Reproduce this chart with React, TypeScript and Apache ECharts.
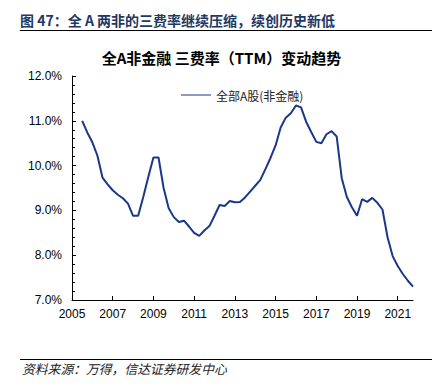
import React, { useEffect, useRef } from "react";
import * as echarts from "echarts";

// ---- data ----
const START_YEAR = 2005;
const START_QUARTER = 2; // first point: 2005Q2
const expenseRatio: number[] = [
  11.0, 10.74, 10.52, 10.22, 9.73, 9.58, 9.45, 9.35, 9.27, 9.15,
  8.88, 8.88, 9.3, 9.75, 10.18, 10.18, 9.5, 9.05, 8.85, 8.74,
  8.77, 8.64, 8.5, 8.43, 8.55, 8.65, 8.88, 9.12, 9.1, 9.21,
  9.18, 9.19, 9.29, 9.42, 9.55, 9.68, 9.92, 10.17, 10.45, 10.85,
  11.07, 11.17, 11.34, 11.3, 10.98, 10.75, 10.53, 10.5, 10.7, 10.77,
  10.65, 9.72, 9.3, 9.07, 8.88, 9.25, 9.19, 9.28, 9.17, 9.02,
  8.4, 7.98, 7.76, 7.58, 7.43, 7.3,
];
const xTickYears: number[] = [2005, 2007, 2009, 2011, 2013, 2015, 2017, 2019, 2021];
const seriesName = "全部A股(非金融)";
const headerText = "图 47：全 A 两非的三费率继续压缩，续创历史新低";
const chartTitle = "全A非金融 三费率（TTM）变动趋势";
const sourceText = "资料来源：万得，信达证券研发中心";

// quarter labels -> decimal year (end of quarter)
const quarterLabels: string[] = expenseRatio.map((_, i) => {
  const q0 = START_QUARTER - 1 + i;
  const y = START_YEAR + Math.floor(q0 / 4);
  return `${y}Q${(q0 % 4) + 1}`;
});
const toYear = (label: string) => {
  const [y, q] = label.split("Q");
  return Number(y) + Number(q) / 4;
};

const CJK = '"Noto Sans CJK SC", "Noto Sans", sans-serif';
const NUM = '"Liberation Sans", Arial, sans-serif';

export default function App() {
  const ref = useRef<HTMLDivElement>(null);
  useEffect(() => {
    document.body.style.margin = "0";
    if (!ref.current) return;
    const chart = echarts.init(ref.current, undefined, { renderer: "svg" });
    chart.setOption({
      animation: false,
      backgroundColor: "#ffffff",
      grid: { left: 72, right: 30, top: 76, bottom: 87 },
      legend: {
        left: 176,
        top: 84,
        itemWidth: 30,
        itemHeight: 10,
        textStyle: { fontFamily: CJK, fontSize: 12, color: "#222" },
        data: [{ name: seriesName, icon: "path://M0,4.5L30,4.5L30,5.5L0,5.5Z" }],
      },
      graphic: [
        {
          type: "text",
          left: 20,
          top: 13,
          style: { text: headerText, font: `bold 14px ${CJK}`, fill: "#1F3864" },
        },
        {
          type: "line",
          shape: { x1: 20, y1: 30.5, x2: 432, y2: 30.5 },
          style: { stroke: "#000", lineWidth: 1 },
        },
        {
          type: "text",
          left: "center",
          top: 50,
          style: { text: chartTitle, font: `bold 15px ${CJK}`, fill: "#000" },
        },
        {
          type: "line",
          shape: { x1: 20, y1: 359.5, x2: 432, y2: 359.5 },
          style: { stroke: "#000", lineWidth: 1 },
        },
        {
          type: "text",
          left: 22,
          top: 362,
          style: { text: sourceText, font: `italic 12.8px ${CJK}`, fill: "#222" },
        },
      ],
      xAxis: {
        type: "value",
        min: 2005,
        max: 2021.75,
        interval: 2,
        axisLine: { lineStyle: { color: "#000", width: 1 } },
        axisTick: { inside: true, length: 4, customValues: xTickYears, lineStyle: { color: "#000" } },
        axisLabel: {
          customValues: xTickYears,
          color: "#000",
          fontFamily: NUM,
          fontSize: 12,
          margin: 8,
          formatter: (v: number) => String(v),
        },
        splitLine: { show: false },
      },
      yAxis: {
        type: "value",
        min: 7,
        max: 12,
        interval: 1,
        axisLine: { show: true, lineStyle: { color: "#000", width: 1 } },
        axisTick: { show: true, inside: true, length: 4, lineStyle: { color: "#000" } },
        minorTick: { show: true, splitNumber: 5, length: 3, lineStyle: { color: "#000" } },
        axisLabel: {
          color: "#000",
          fontFamily: NUM,
          fontSize: 12,
          margin: 10,
          formatter: (v: number) => v.toFixed(1) + "%",
        },
        splitLine: { show: false },
      },
      series: [
        {
          name: seriesName,
          type: "line",
          symbol: "none",
          data: quarterLabels.map((q, i) => [toYear(q), expenseRatio[i]]),
          lineStyle: { color: "#1B3788", width: 2 },
          itemStyle: { color: "#1B3788" },
        },
      ],
    });
    return () => chart.dispose();
  }, []);
  return <div ref={ref} style={{ width: 443, height: 387 }} />;
}
